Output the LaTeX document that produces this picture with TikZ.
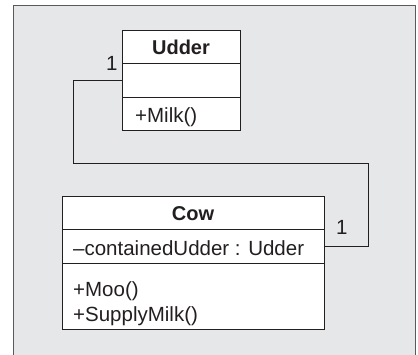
\documentclass[tikz,border=0pt]{standalone}
\usepackage{fontspec}
\setmainfont{Liberation Sans}
\definecolor{bggray}{HTML}{E6E7E9}
\definecolor{framegray}{HTML}{5A5A5A}
\definecolor{ink}{HTML}{231F20}
\begin{document}
\begin{tikzpicture}[x=1pt,y=-1pt,
  comp/.style={draw=ink,line width=1pt,fill=white,rectangle,inner sep=0pt,anchor=north west},
  lbl/.style={inner sep=0pt,anchor=base west,text=ink,font=\fontsize{20.5}{24}\selectfont},
  title/.style={inner sep=0pt,anchor=base,text=ink,font=\fontsize{20}{24}\selectfont\bfseries},
  conn/.style={draw=ink,line width=1pt}]
\useasboundingbox (0,0) rectangle (418,354);
\clip (0,0) rectangle (418,354);
\draw[framegray,line width=1pt,fill=bggray] (13,5) rectangle (415,370);
% Udder class
\node[comp,minimum width=118pt,minimum height=33pt] (un) at (122,30) {};
\node[comp,minimum width=118pt,minimum height=34pt] (ua) at (122,63) {};
\node[comp,minimum width=118pt,minimum height=33pt] (uo) at (122,97) {};
\node[title] (untxt) at (181,54) {Udder};
\node[lbl] (uotxt) at (135,122) {+Milk()};
% Cow class
\node[comp,minimum width=262pt,minimum height=33pt] (cn) at (62,196) {};
\node[comp,minimum width=262pt,minimum height=34pt] (ca) at (62,229) {};
\node[comp,minimum width=262pt,minimum height=66pt] (co) at (62,263) {};
\node[title] (cntxt) at (193,220) {Cow};
\node[lbl] (catxt) at (73,255) {–containedUdder : Udder};
\node[lbl] (cotxt1) at (73,296) {+Moo()};
\node[lbl] (cotxt2) at (73,321) {+SupplyMilk()};
% association
\coordinate (c1) at (73,163);
\coordinate (c2) at (368,163);
\draw[conn] (ua.west) -| (c1) -- (c2) |- (ca.east);
\node[lbl] (m1) at (106,70) {1};
\node[lbl] (m2) at (336,234) {1};
\end{tikzpicture}
\end{document}
